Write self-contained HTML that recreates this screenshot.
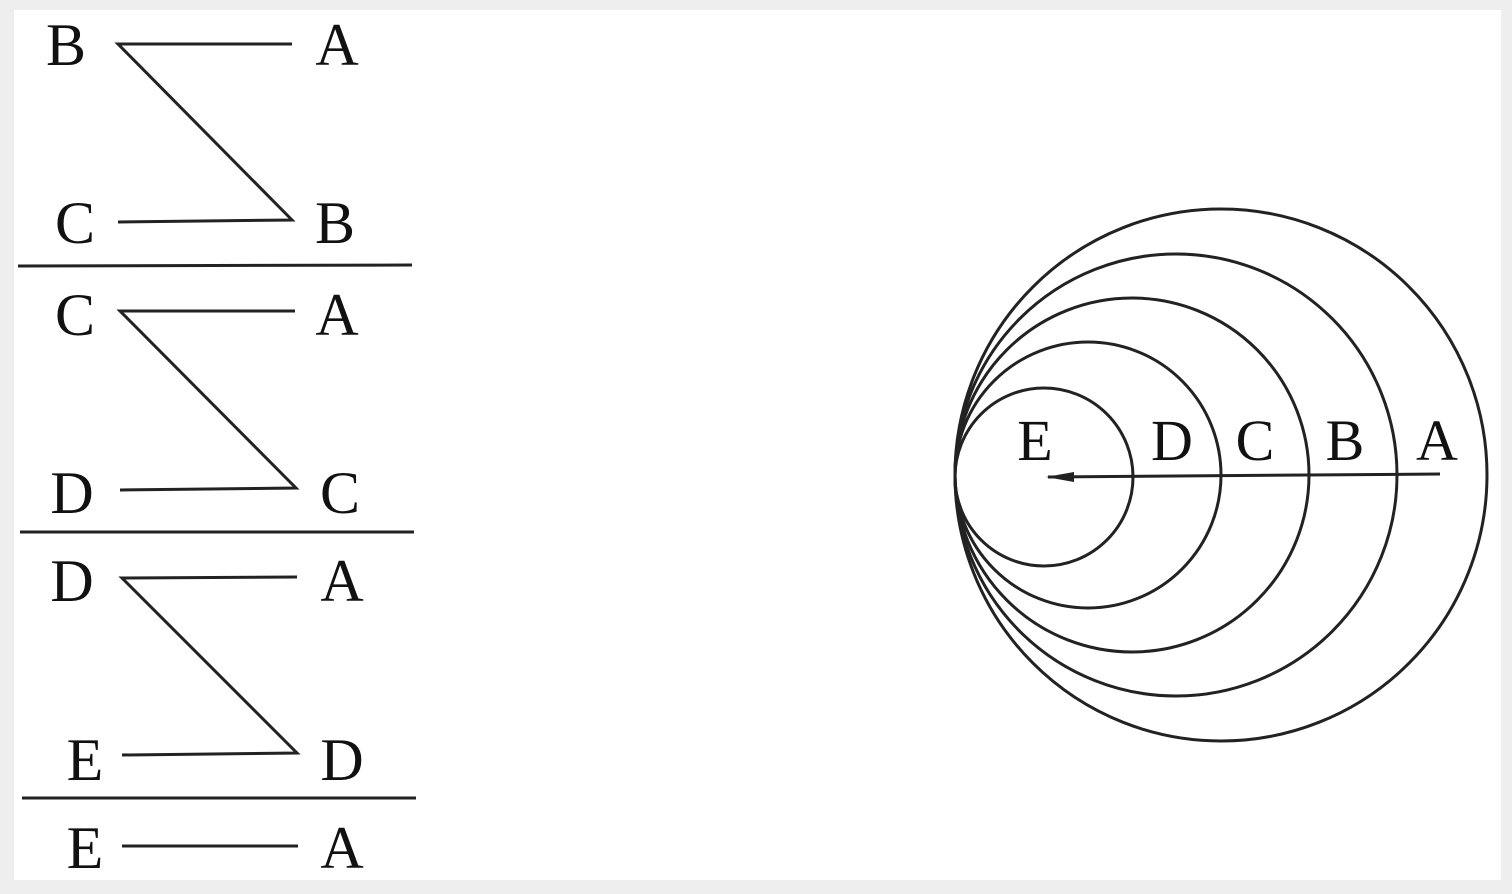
<!DOCTYPE html>
<html><head><meta charset="utf-8"><style>
html,body{margin:0;padding:0;background:#eee;}
svg{display:block;}
text{font-family:"Liberation Serif",serif;font-size:60px;fill:#111;text-anchor:middle;}
</style></head><body>
<svg width="1512" height="894" viewBox="0 0 1512 894">
<rect x="14" y="10" width="1487" height="870" fill="#fff"/>
<g stroke="#222" stroke-width="3" fill="none">
<polyline points="292,44 118,44 292,220 118,222"/>
<line x1="18" y1="266" x2="412" y2="265"/>
<polyline points="295,311 120,311 296,488 120,490"/>
<line x1="20" y1="532" x2="414" y2="532"/>
<polyline points="297,577 122,578 297,753 122,755"/>
<line x1="22" y1="798" x2="416" y2="798"/>
<line x1="122" y1="846" x2="298" y2="846"/>
</g>
<g>
<text x="66" y="65">B</text><text x="337" y="65">A</text>
<text x="75" y="243">C</text><text x="335" y="243">B</text>
<text x="75" y="335">C</text><text x="337" y="335">A</text>
<text x="72" y="513">D</text><text x="340" y="513">C</text>
<text x="72" y="601">D</text><text x="342" y="601">A</text>
<text x="85" y="780">E</text><text x="342" y="780">D</text>
<text x="85" y="868">E</text><text x="342" y="868">A</text>
</g>
<g stroke="#222" stroke-width="3" fill="none">
<circle cx="1221" cy="475" r="266"/>
<circle cx="1176" cy="475" r="221"/>
<circle cx="1132" cy="475" r="177"/>
<circle cx="1088" cy="475" r="133"/>
<circle cx="1044" cy="477" r="89"/>
<line x1="1048" y1="477" x2="1440" y2="474"/>
</g>
<polygon points="1046,477 1074,472 1074,482" fill="#222"/>
<g style="font-size:58px">
<text x="1035" y="460" style="font-size:58px">E</text>
<text x="1172" y="460" style="font-size:58px">D</text>
<text x="1255" y="460" style="font-size:58px">C</text>
<text x="1345" y="460" style="font-size:58px">B</text>
<text x="1437" y="460" style="font-size:58px">A</text>
</g>
</svg>
</body></html>
